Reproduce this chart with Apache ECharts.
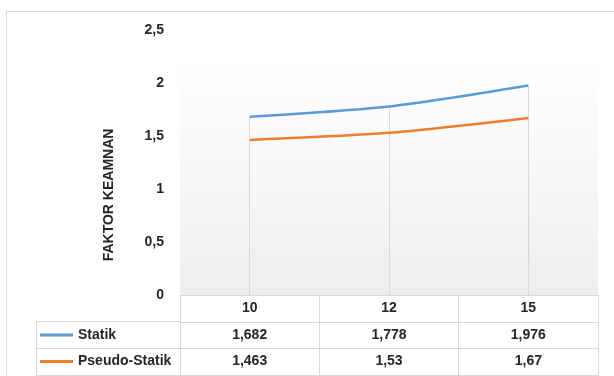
<!DOCTYPE html>
<html>
<head>
<meta charset="utf-8">
<script src="https://cdn.jsdelivr.net/npm/echarts@6/dist/echarts.min.js"></script>
<style>
  html, body { margin: 0; padding: 0; background: #fff; }
  #chart { width: 614px; height: 376px; }
</style>
</head>
<body>
<div id="chart"></div>
<script>
// Data
const categories = ['10', '12', '15'];
const statik = [1.682, 1.778, 1.976];
const pseudoStatik = [1.463, 1.53, 1.67];
const seriesNames = ['Statik', 'Pseudo-Statik'];
const yMin = 0;
const yMax = 2.5;
const yStep = 0.5;

const FONT = '"Liberation Sans", Arial, sans-serif';
const TEXT = '#262626';
const BORDER = '#d9d9d9';

// decimal comma like the source
const fmt = (v) => String(v).replace('.', ',');

const chart = echarts.init(document.getElementById('chart'));

// drop lines from the highest point to the axis
const dropLines = categories.map((c, i) => [
  { coord: [c, Math.max(statik[i], pseudoStatik[i])] },
  { coord: [c, yMin] },
]);

const labelStyle = { color: TEXT, fontFamily: FONT, fontWeight: 'bold', fontSize: 14 };

// data table rows drawn as extra category axes under the plot
const tableRow = (values, offset, showLabel) => ({
  type: 'category',
  gridIndex: 0,
  position: 'bottom',
  offset: offset,
  data: values,
  axisLine: { show: true, lineStyle: { color: BORDER, width: 1 } },
  axisTick: { show: false },
  axisLabel: Object.assign({ show: showLabel, margin: 6, interval: 0 }, labelStyle),
  splitLine: { show: false },
});

chart.setOption({
  animation: false,
  backgroundColor: '#fff',
  textStyle: { fontFamily: FONT },
  grid: { left: 180, right: 16, top: 30, bottom: 81 },
  legend: {
    orient: 'vertical',
    left: 40,
    top: 328,
    padding: 0,
    itemWidth: 33,
    itemHeight: 3,
    itemGap: 12.5,
    icon: 'rect',
    data: seriesNames,
    textStyle: labelStyle,
  },
  graphic: [
    // outer chart border
    {
      type: 'rect', z: -20, silent: true,
      shape: { x: 6.5, y: 11.5, width: 700, height: 400 },
      style: { fill: '#fff', stroke: BORDER, lineWidth: 1 },
    },
    // plot area fill
    {
      type: 'rect', z: -10, silent: true,
      shape: { x: 180, y: 58, width: 418, height: 237 },
      style: {
        fill: new echarts.graphic.LinearGradient(0, 0, 0, 1, [
          { offset: 0, color: '#ffffff' },
          { offset: 1, color: '#eeeeee' },
        ]),
      },
    },
    // legend key column borders of the data table
    { type: 'line', silent: true, shape: { x1: 36, y1: 321.5, x2: 180, y2: 321.5 }, style: { stroke: BORDER } },
    { type: 'line', silent: true, shape: { x1: 36, y1: 348.5, x2: 180, y2: 348.5 }, style: { stroke: BORDER } },
    { type: 'line', silent: true, shape: { x1: 36, y1: 375.5, x2: 180, y2: 375.5 }, style: { stroke: BORDER } },
    { type: 'line', silent: true, shape: { x1: 36.5, y1: 321.5, x2: 36.5, y2: 376 }, style: { stroke: BORDER } },
  ],
  xAxis: [
    {
      type: 'category',
      data: categories,
      boundaryGap: true,
      axisLine: { show: true, lineStyle: { color: BORDER, width: 1 } },
      axisTick: { show: true, length: 81, interval: 0, lineStyle: { color: BORDER } },
      axisLabel: Object.assign({ margin: 6, interval: 0 }, labelStyle),
      splitLine: { show: false },
    },
    tableRow(statik.map(fmt), 27, true),
    tableRow(pseudoStatik.map(fmt), 53, true),
    tableRow(categories, 80, false),
  ],
  yAxis: {
    type: 'value',
    min: yMin,
    max: yMax,
    interval: yStep,
    name: 'FAKTOR KEAMNAN',
    nameLocation: 'middle',
    nameGap: 64,
    nameTextStyle: Object.assign({ padding: [0, 0, 0, -65] }, labelStyle),
    axisLine: { show: false },
    axisTick: { show: false },
    splitLine: { show: false },
    axisLabel: Object.assign({ margin: 16, formatter: (v) => fmt(v) }, labelStyle),
  },
  series: [
    {
      name: seriesNames[0],
      type: 'line',
      data: statik,
      smooth: 0.25,
      symbol: 'none',
      z: 5,
      itemStyle: { color: '#5B9BD5' },
      lineStyle: { color: '#5B9BD5', width: 2.5 },
      markLine: {
        silent: true,
        symbol: 'none',
        label: { show: false },
        z: 1,
        lineStyle: { color: BORDER, width: 1, type: 'solid' },
        data: dropLines,
      },
    },
    {
      name: seriesNames[1],
      type: 'line',
      data: pseudoStatik,
      smooth: 0.25,
      symbol: 'none',
      z: 5,
      itemStyle: { color: '#ED7D31' },
      lineStyle: { color: '#ED7D31', width: 2.5 },
    },
  ],
});
</script>
</body>
</html>
